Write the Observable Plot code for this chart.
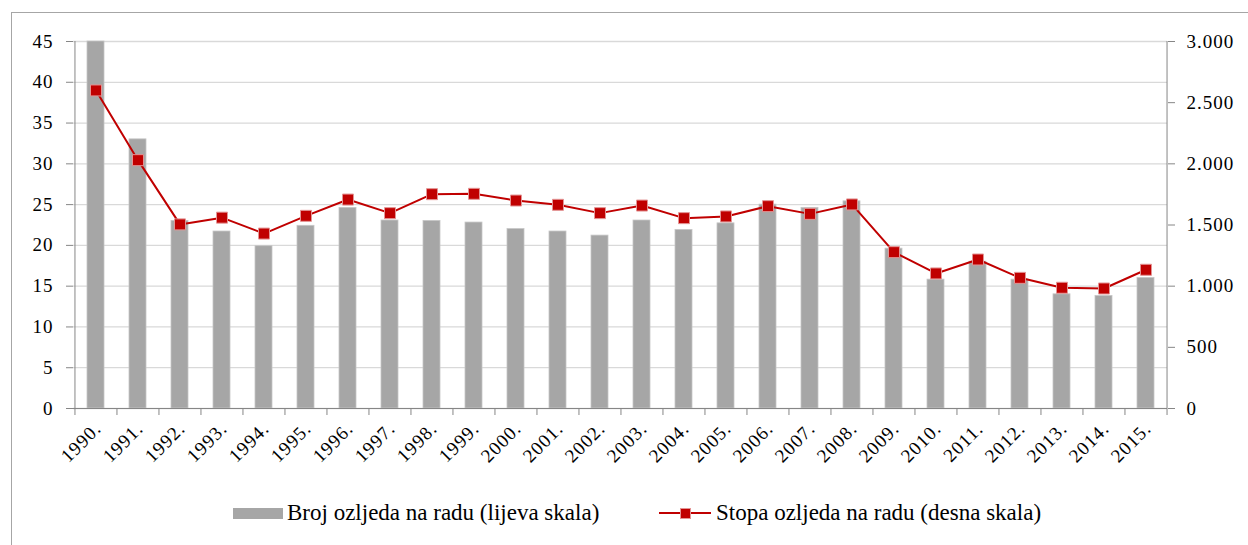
<!DOCTYPE html>
<html><head><meta charset="utf-8">
<script src="https://cdn.jsdelivr.net/npm/d3@7"></script>
<script src="https://cdn.jsdelivr.net/npm/@observablehq/plot@0.6"></script>
<style>
body{margin:0;background:#fff;}
#wrap{position:relative;width:1248px;height:545px;overflow:hidden;background:#fff;}
#frame{position:absolute;left:11px;top:12px;width:1300px;height:600px;border-left:1px solid #a6a6a6;border-top:1px solid #a6a6a6;}
#chart{position:absolute;left:0;top:0;}
#chart svg{font-family:"Liberation Serif",serif !important;font-size:19px !important;letter-spacing:1px;}
.leg{position:absolute;top:500px;font-family:"Liberation Serif",serif;font-size:23px;color:#000;display:flex;align-items:center;white-space:nowrap;}
.sw{display:inline-block;width:50px;height:11px;background:#a6a6a6;margin-right:4px;}
.ln{position:relative;display:inline-block;width:52px;height:14px;margin-right:5px;}
.ln::before{content:"";position:absolute;left:0;right:0;top:6px;height:2px;background:#c00000;}
.ln::after{content:"";position:absolute;left:21px;top:2px;width:9px;height:9px;background:#c00000;border:1px solid #e39494;}
</style>
</head><body>
<div id="wrap"><div id="frame"></div><div id="chart"></div>
<div class="leg" style="left:233px"><span class="sw"></span>Broj ozljeda na radu (lijeva skala)</div>
<div class="leg" style="left:659px"><span class="ln"></span>Stopa ozljeda na radu (desna skala)</div>
</div>
<script>
const years = ["1990.","1991.","1992.","1993.","1994.","1995.","1996.","1997.","1998.","1999.","2000.","2001.","2002.","2003.","2004.","2005.","2006.","2007.","2008.","2009.","2010.","2011.","2012.","2013.","2014.","2015."];
const injuries = [45,33,23,21.7,19.9,22.4,24.6,23.05,23,22.8,22,21.7,21.2,23.05,21.9,22.7,25,24.6,25.4,19.6,15.8,18,15.8,14,13.8,16];
const rate = [2600,2030,1505,1560,1430,1575,1708,1597,1752,1755,1700,1665,1597,1659,1556,1570,1654,1591,1668,1278,1104,1218,1068,987,981,1134];
const leftTicks = [0,5,10,15,20,25,30,35,40,45];
const rightTicks = [0,500,1000,1500,2000,2500,3000];
const leftMax = 45, rightMax = 3000;

const k = leftMax / rightMax;
const W = 1248, H = 470, mL = 73, mR = 81, mT = 41, mB = 62;
const step = (W - mL - mR) / years.length;
const rows = years.map((y, i) => ({year: y, n: injuries[i], r: rate[i] * k}));
const fmt = v => d3.format(",")(v).replace(/,/g, ".");
const axisGray = "#868686";

const chart = Plot.plot({
  width: W, height: H,
  marginLeft: mL, marginRight: mR, marginTop: mT, marginBottom: mB,
  style: {fontFamily: "Liberation Serif", fontSize: "19px", background: "transparent", color: "#000"},
  x: {domain: years, paddingInner: 0.6, paddingOuter: 0.3, label: null},
  y: {domain: [0, leftMax], label: null},
  marks: [
    Plot.gridY(leftTicks, {stroke: "#d9d9d9", strokeOpacity: 1, strokeWidth: 1.3}),
    Plot.barY(rows, {x: "year", y: "n", fill: "#a6a6a6", stroke: "#c6c6c6", strokeWidth: 0.8}),
    Plot.ruleY([0], {stroke: axisGray}),
    Plot.ruleX([years[0]], {dx: -step / 2, stroke: axisGray}),
    Plot.ruleX([years[years.length - 1]], {dx: step / 2, stroke: axisGray}),
    Plot.axisY({ticks: leftTicks, tickSize: 7, tickPadding: 13, stroke: axisGray, label: null}),
    Plot.axisY({anchor: "right", ticks: rightTicks.map(v => v * k), tickFormat: v => fmt(Math.round(v / k)), tickSize: 7, tickPadding: 12, stroke: axisGray, label: null}),
    Plot.axisX({ticks: years, tickSize: 7, tickFormat: () => "", dx: -step / 2, stroke: axisGray, label: null}),
    Plot.axisX({ticks: [years[years.length - 1]], tickSize: 7, tickFormat: () => "", dx: step / 2, stroke: axisGray, label: null}),
    Plot.axisX({tickSize: 0, tickRotate: -45, tickPadding: 17, dx: 2, label: null}),
    Plot.line(rows, {x: "year", y: "r", stroke: "#c00000", strokeWidth: 2}),
    Plot.dot(rows, {x: "year", y: "r", symbol: "square", r: 6.2, fill: "#c00000", stroke: "#e39494", strokeWidth: 1})
  ]
});
document.getElementById("chart").appendChild(chart);
</script>
</body></html>
